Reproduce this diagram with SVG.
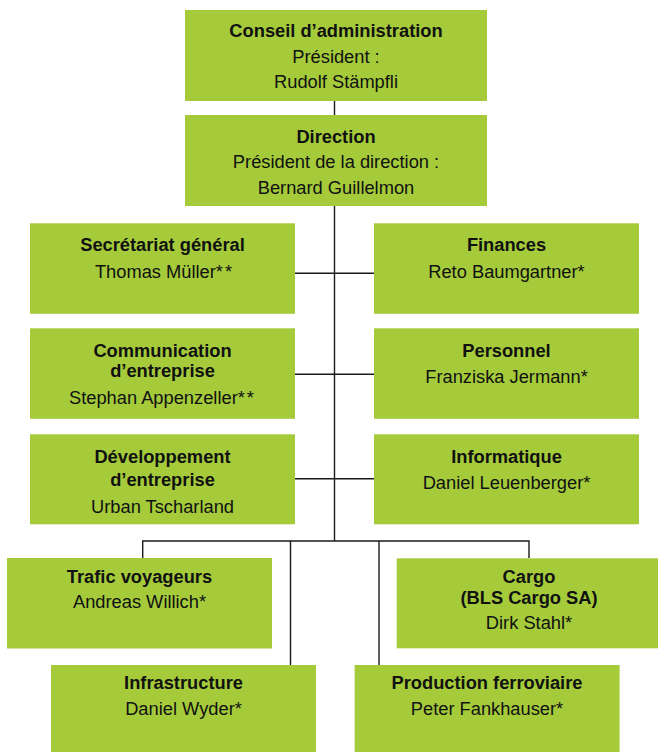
<svg xmlns="http://www.w3.org/2000/svg" width="658" height="752" viewBox="0 0 658 752">
<style>
.box{fill:#A5CB3B}
.t{font-family:"Liberation Sans",Arial,sans-serif;font-size:18.3px;fill:#111;text-anchor:middle}
.b{font-weight:bold}
.c{stroke:#1a1a1a;stroke-width:1.4;fill:none}
.ast{letter-spacing:2px}
</style>
<rect width="658" height="752" fill="#fff"/>
<g id="connectors">
<path class="c" d="M334.5 101V541"/>
<path class="c" d="M295 273.3H374M295 374.3H374M295 478.7H374"/>
<path class="c" d="M142.7 558V541H529V558M290.5 541V665M379 541V665"/>
</g>
<g id="conseil">
<rect class="box" x="185" y="10" width="302" height="91"/>
<text class="t b" x="336" y="37.3">Conseil d’administration</text>
<text class="t" x="336" y="63.3">Président :</text>
<text class="t" x="336" y="88.3">Rudolf Stämpfli</text>
</g>
<g id="direction">
<rect class="box" x="185" y="115" width="302" height="91"/>
<text class="t b" x="336" y="143.3">Direction</text>
<text class="t" x="336" y="168.3">Président de la direction :</text>
<text class="t" x="336" y="194">Bernard Guillelmon</text>
</g>
<g id="secretariat">
<rect class="box" x="30" y="223.3" width="265" height="90.5"/>
<text class="t b" x="162.5" y="251">Secrétariat général</text>
<text class="t" x="163.5" y="278.3">Thomas Müller<tspan class="ast">*</tspan>*</text>
</g>
<g id="finances">
<rect class="box" x="374" y="223.3" width="265" height="90.5"/>
<text class="t b" x="506.5" y="251">Finances</text>
<text class="t" x="506.5" y="278.3">Reto Baumgartner*</text>
</g>
<g id="communication">
<rect class="box" x="30" y="328.3" width="265" height="90.5"/>
<text class="t b" x="162.5" y="356.7">Communication</text>
<text class="t b" x="162.5" y="377.3">d’entreprise</text>
<text class="t" x="161.5" y="404">Stephan Appenzeller<tspan class="ast">*</tspan>*</text>
</g>
<g id="personnel">
<rect class="box" x="374" y="328.3" width="265" height="90.5"/>
<text class="t b" x="506.5" y="356.7">Personnel</text>
<text class="t" x="506.5" y="383.3">Franziska Jermann*</text>
</g>
<g id="developpement">
<rect class="box" x="30" y="434.3" width="265" height="90"/>
<text class="t b" x="162.5" y="462.7">Développement</text>
<text class="t b" x="162.5" y="486">d’entreprise</text>
<text class="t" x="162.5" y="512.7">Urban Tscharland</text>
</g>
<g id="informatique">
<rect class="box" x="374" y="434.3" width="265" height="90"/>
<text class="t b" x="506.5" y="463.3">Informatique</text>
<text class="t" x="506.5" y="489.3">Daniel Leuenberger*</text>
</g>
<g id="trafic">
<rect class="box" x="7" y="558" width="265" height="90.5"/>
<text class="t b" x="139.5" y="582.7">Trafic voyageurs</text>
<text class="t" x="139.5" y="608">Andreas Willich*</text>
</g>
<g id="cargo">
<rect class="box" x="396.7" y="558.3" width="265" height="90"/>
<text class="t b" x="529" y="582.7">Cargo</text>
<text class="t b" x="529" y="604">(BLS Cargo SA)</text>
<text class="t" x="529" y="629.3">Dirk Stahl*</text>
</g>
<g id="infrastructure">
<rect class="box" x="51" y="665" width="265" height="91"/>
<text class="t b" x="183.5" y="689.3">Infrastructure</text>
<text class="t" x="183.5" y="715">Daniel Wyder*</text>
</g>
<g id="production">
<rect class="box" x="354.6" y="665" width="265" height="91"/>
<text class="t b" x="487" y="689.3">Production ferroviaire</text>
<text class="t" x="487" y="715">Peter Fankhauser*</text>
</g>
</svg>
